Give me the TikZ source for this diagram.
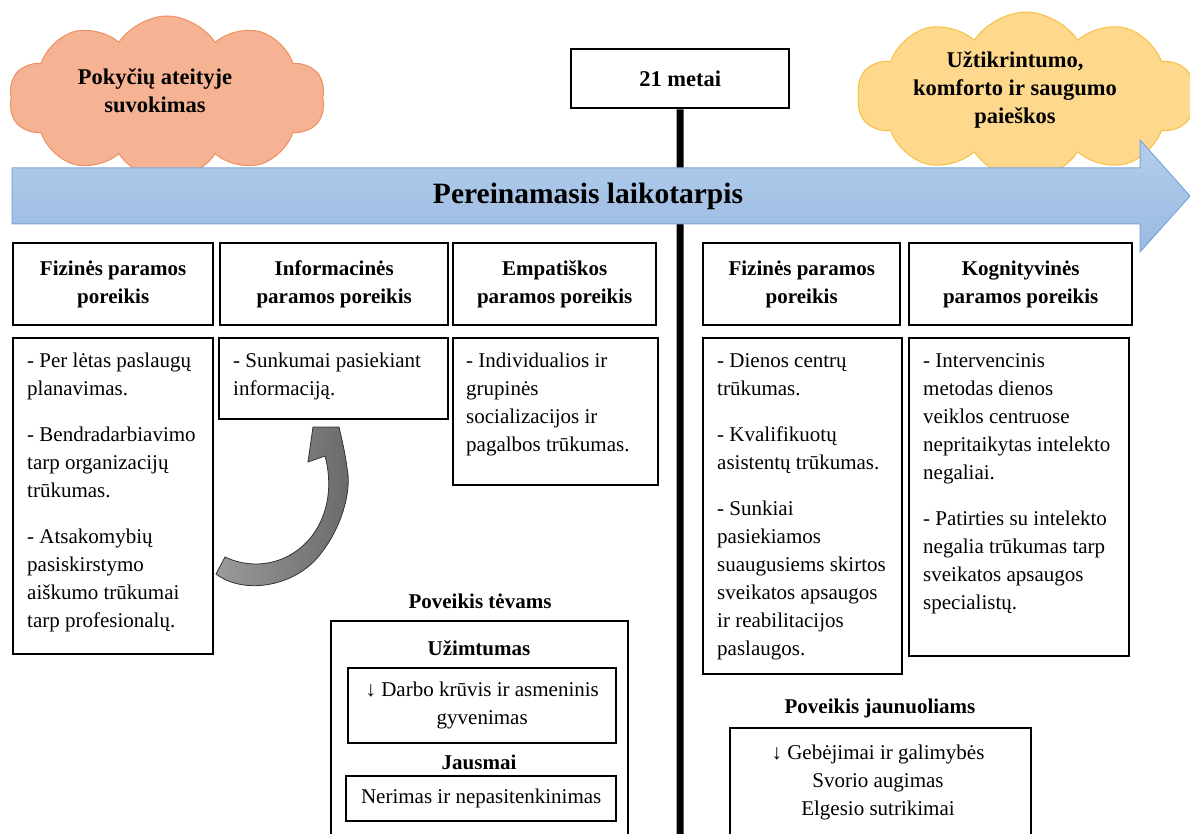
\documentclass[tikz,border=0pt]{standalone}
\usepackage{fontspec}
\setmainfont{Liberation Serif}
\usetikzlibrary{shapes.symbols}

\definecolor{peachFill}{HTML}{F5B394}
\definecolor{peachEdge}{HTML}{EE9060}
\definecolor{sandFill}{HTML}{FED88C}
\definecolor{sandEdge}{HTML}{F6C044}
\definecolor{bandTop}{HTML}{B3CDEB}
\definecolor{bandBot}{HTML}{9BBAE2}
\definecolor{bandEdge}{HTML}{7AA6DA}
\definecolor{bendLight}{HTML}{9A9A9A}
\definecolor{bendDark}{HTML}{6A6A6A}

\tikzset{
  body/.style={font=\fontsize{21}{28}\selectfont},
  bold/.style={font=\bfseries\fontsize{21}{28}\selectfont},
  hbox/.style={draw=black, line width=2.4pt, anchor=north west, inner sep=0pt,
               align=center, bold},
  cbox/.style={draw=black, line width=2.4pt, anchor=north west, inner sep=0pt},
  ibox/.style={draw=black, line width=2.4pt, anchor=north west, inner sep=0pt,
               align=center, body},
  ctext/.style={anchor=north west, inner sep=0pt, align=left, body},
  lbl/.style={inner sep=0pt, bold},
  puff/.style={cloud, cloud puffs=10, cloud puff arc=115, cloud ignores aspect,
               line width=1pt, inner sep=0pt},
  puffText/.style={inner sep=0pt, align=center,
                   font=\bfseries\fontsize{22.5}{28}\selectfont},
}

\begin{document}
\begin{tikzpicture}[x=1pt,y=-1pt]
\useasboundingbox (0,0) rectangle (1190,834);
\clip (0,0) rectangle (1190,834);

% clouds behind the time band
\node[puff, draw=peachEdge, fill=peachFill, minimum width=316pt, minimum height=164pt]
  (future) at (167,98) {};
\node[puffText] (futureText) at (155,91) {Pokyčių ateityje\\suvokimas};
\node[puff, draw=sandEdge, fill=sandFill, minimum width=338pt, minimum height=168pt]
  (comfort) at (1026,96) {};
\node[puffText] (comfortText) at (1015,90) {Užtikrintumo,\\komforto ir saugumo\\paieškos};

% age marker and the dividing line
\node[hbox, minimum width=218pt, minimum height=59pt,
      font=\bfseries\fontsize{22.5}{28}\selectfont] (age) at (570,48) {21 metai};
\coordinate (lineEnd) at (680,834);
\draw[line width=7pt] (age.south) -- (lineEnd);

% transition band
\path[draw=bandEdge, line width=1pt, top color=bandTop, bottom color=bandBot]
  (12,168) -- (1140,168) -- (1140,140) -- (1190,196) -- (1140,252) -- (1140,224)
  -- (12,224) -- cycle;
\node[inner sep=0pt, font=\bfseries\fontsize{29.5}{34}\selectfont] (period) at (588,196)
  {Pereinamasis laikotarpis};

% need headings
\node[hbox, minimum width=200pt, minimum height=82pt] (h1) at (12,242) {Fizinės paramos\\poreikis};
\node[hbox, minimum width=228pt, minimum height=82pt] (h2) at (219,242) {Informacinės\\paramos poreikis};
\node[hbox, minimum width=203pt, minimum height=82pt] (h3) at (452,242) {Empatiškos\\paramos poreikis};
\node[hbox, minimum width=197pt, minimum height=82pt] (h4) at (702,242) {Fizinės paramos\\poreikis};
\node[hbox, minimum width=223pt, minimum height=82pt] (h5) at (908,242) {Kognityvinės\\paramos poreikis};

% need details
\node[cbox, minimum width=200pt, minimum height=316pt] (b1) at (12,337) {};
\node[cbox, minimum width=229pt, minimum height=81pt] (b2) at (218,337) {};
\node[cbox, minimum width=205pt, minimum height=147pt] (b3) at (452,337) {};
\node[cbox, minimum width=199pt, minimum height=336pt] (b4) at (702,337) {};
\node[cbox, minimum width=220pt, minimum height=318pt] (b5) at (908,337) {};

\node[ctext] (t1) at (27,353) {- Per lėtas paslaugų\\planavimas.\\[18pt]
  - Bendradarbiavimo\\tarp organizacijų\\trūkumas.\\[18pt]
  - Atsakomybių\\pasiskirstymo\\aiškumo trūkumai\\tarp profesionalų.};
\node[ctext] (t2) at (233,353) {- Sunkumai pasiekiant\\informaciją.};
\node[ctext] (t3) at (466,353) {- Individualios ir\\grupinės\\socializacijos ir\\pagalbos trūkumas.};
\node[ctext] (t4) at (717,353) {- Dienos centrų\\trūkumas.\\[18pt]
  - Kvalifikuotų\\asistentų trūkumas.\\[18pt]
  - Sunkiai\\pasiekiamos\\suaugusiems skirtos\\sveikatos apsaugos\\ir reabilitacijos\\paslaugos.};
\node[ctext] (t5) at (923,353) {- Intervencinis\\metodas dienos\\veiklos centruose\\nepritaikytas intelekto\\negaliai.\\[18pt]
  - Patirties su intelekto\\negalia trūkumas tarp\\sveikatos apsaugos\\specialistų.};

% curved block arrow between the first two detail boxes
\path[draw=black!80, line width=0.8pt, left color=bendLight, right color=bendDark]
  (216,574) .. controls (245,596) and (298,586) .. (322,552)
  .. controls (342,526) and (352,490) .. (347,468)
  .. controls (345,452) and (342,440) .. (339,427)
  -- (313,427) -- (308,462) -- (325,456)
  .. controls (332,482) and (330,512) .. (312,536)
  .. controls (290,564) and (255,571) .. (225,557) -- cycle;

% impact on parents
\node[lbl] (parentsLbl) at (480,601) {Poveikis tėvams};
\node[cbox, minimum width=297pt, minimum height=240pt] (parents) at (330,620) {};
\node[lbl] (jobLbl) at (479,648) {Užimtumas};
\node[ibox, minimum width=268pt, minimum height=75pt] (job) at (347,667)
  {↓ Darbo krūvis ir asmeninis\\gyvenimas};
\node[lbl] (feelLbl) at (479,762) {Jausmai};
\node[ibox, minimum width=270pt, minimum height=45pt] (feel) at (345,775)
  {Nerimas ir nepasitenkinimas};

% impact on young people
\node[lbl] (youthLbl) at (880,708) {Poveikis jaunuoliams};
\node[cbox, minimum width=301pt, minimum height=140pt] (youth) at (729,727) {};
\node[inner sep=0pt, anchor=north, align=center, body] (youthText) at (878,745)
  {↓ Gebėjimai ir galimybės\\Svorio augimas\\Elgesio sutrikimai};
\end{tikzpicture}
\end{document}
